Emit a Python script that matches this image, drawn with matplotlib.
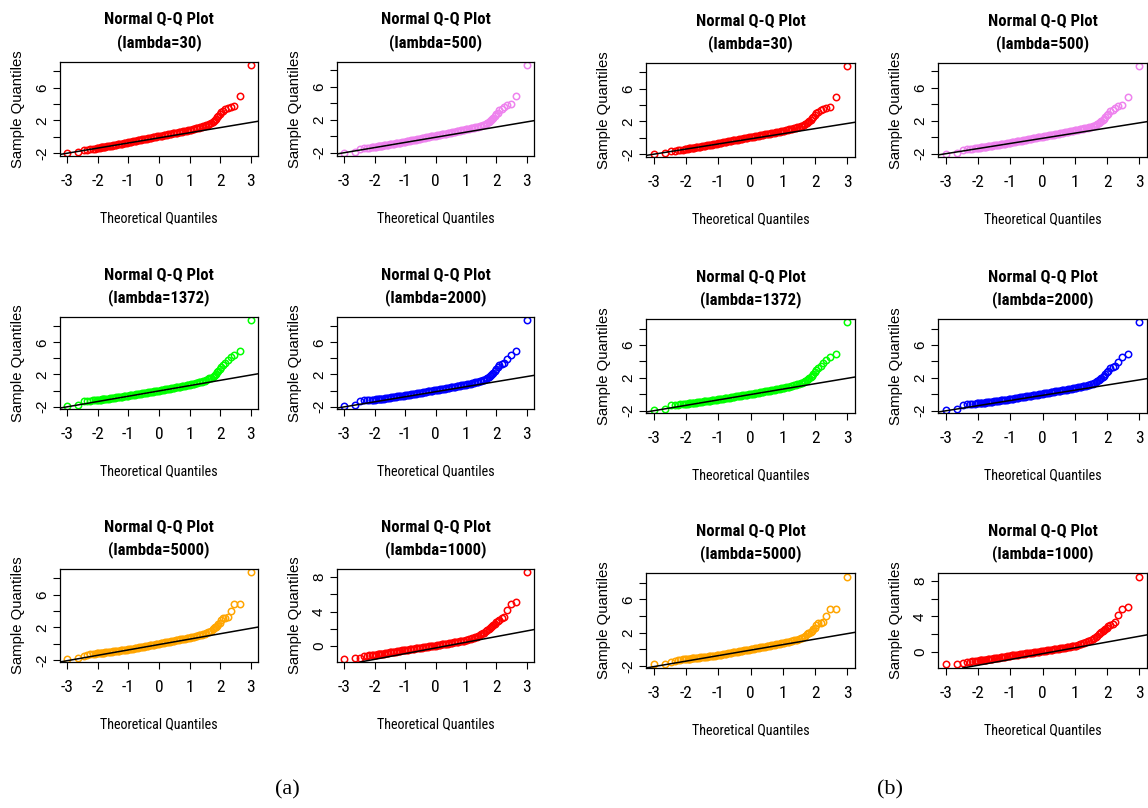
import matplotlib
matplotlib.use("Agg")
import matplotlib.pyplot as plt
from matplotlib import font_manager
from matplotlib.font_manager import FontProperties

# ---------------- data ----------------
THEO_LEFT = [-2.996, -2.643, -2.464, -2.343, -2.248, -2.169, -2.101, -2.042, -1.990,
             -1.943, -1.900, -1.860, -1.823, -1.787, -1.754]
THEO_MID = [-1.70, -1.65, -1.60, -1.55, -1.50, -1.45, -1.40, -1.35, -1.30, -1.25,
            -1.20, -1.15, -1.10, -1.05, -1.00, -0.95, -0.90, -0.85, -0.80, -0.75,
            -0.70, -0.65, -0.60, -0.55, -0.50, -0.45, -0.40, -0.35, -0.30, -0.25,
            -0.20, -0.15, -0.10, -0.05, 0.00, 0.05, 0.10, 0.15, 0.20, 0.25,
            0.30, 0.35, 0.40, 0.45, 0.50, 0.55, 0.60, 0.65, 0.70, 0.75,
            0.80, 0.85, 0.90, 0.95, 1.00, 1.05, 1.10, 1.15, 1.20, 1.25,
            1.30, 1.35, 1.40, 1.45, 1.50, 1.55, 1.60, 1.65, 1.70]
THEO_RIGHT = [1.754, 1.787, 1.823, 1.860, 1.900, 1.943, 1.990, 2.042, 2.101,
              2.169, 2.248, 2.343, 2.464, 2.643, 2.996]
THEO = THEO_LEFT + THEO_MID + THEO_RIGHT

Y_30 = [-1.92, -1.80, -1.64, -1.61, -1.53, -1.48, -1.44, -1.40, -1.35, -1.32, -1.29, -1.27, -1.24, -1.22, -1.20,
        -1.17, -1.14, -1.11, -1.07, -1.04, -1.00, -0.97, -0.93, -0.90, -0.86,
        -0.83, -0.78, -0.75, -0.71, -0.67, -0.63, -0.60, -0.55, -0.52, -0.47,
        -0.44, -0.41, -0.37, -0.32, -0.29, -0.25, -0.21, -0.18, -0.14, -0.10,
        -0.07, -0.03, 0.01, 0.04, 0.08, 0.12, 0.15, 0.19, 0.22, 0.26,
        0.30, 0.33, 0.37, 0.41, 0.45, 0.48, 0.52, 0.56, 0.60, 0.63,
        0.67, 0.71, 0.75, 0.79, 0.84, 0.88, 0.93, 0.97, 1.02, 1.07,
        1.12, 1.18, 1.24, 1.30, 1.36, 1.42, 1.48, 1.56, 1.65,
        1.80, 1.92, 2.04, 2.22, 2.40, 2.55, 2.72, 3.05, 3.20, 3.35, 3.50, 3.67, 3.75, 5.00, 8.70]

Y_500 = [-1.98, -1.90, -1.56, -1.46, -1.41, -1.37, -1.33, -1.30, -1.27, -1.25, -1.23, -1.21, -1.19, -1.17, -1.15,
         -1.12, -1.09, -1.06, -1.03, -1.00, -0.97, -0.94, -0.90, -0.87, -0.84,
         -0.80, -0.77, -0.73, -0.69, -0.65, -0.62, -0.58, -0.54, -0.51, -0.47,
         -0.43, -0.40, -0.36, -0.32, -0.29, -0.25, -0.21, -0.18, -0.14, -0.10,
         -0.07, -0.03, 0.00, 0.04, 0.08, 0.11, 0.15, 0.19, 0.22, 0.26,
         0.30, 0.33, 0.37, 0.41, 0.44, 0.48, 0.52, 0.55, 0.59, 0.63,
         0.67, 0.70, 0.74, 0.78, 0.82, 0.86, 0.91, 0.95, 0.99, 1.04,
         1.08, 1.13, 1.18, 1.23, 1.28, 1.34, 1.40, 1.47, 1.58,
         1.72, 1.85, 1.98, 2.10, 2.25, 2.48, 2.65, 2.88, 3.15, 3.30, 3.50, 3.84, 3.88, 4.90, 8.60]

Y_1372 = [-1.88, -1.80, -1.34, -1.30, -1.27, -1.24, -1.22, -1.20, -1.18, -1.16, -1.14, -1.12, -1.10, -1.08, -1.06,
          -1.04, -1.01, -0.98, -0.96, -0.93, -0.90, -0.87, -0.84, -0.82, -0.79,
          -0.76, -0.73, -0.71, -0.68, -0.65, -0.62, -0.58, -0.55, -0.52, -0.48,
          -0.45, -0.42, -0.39, -0.35, -0.32, -0.29, -0.26, -0.22, -0.19, -0.16,
          -0.13, -0.10, -0.06, -0.03, 0.00, 0.04, 0.07, 0.11, 0.14, 0.18,
          0.21, 0.25, 0.28, 0.32, 0.35, 0.39, 0.43, 0.46, 0.50, 0.54,
          0.58, 0.61, 0.65, 0.69, 0.73, 0.78, 0.82, 0.86, 0.91, 0.96,
          1.01, 1.07, 1.12, 1.18, 1.24, 1.32, 1.40, 1.50, 1.62,
          1.72, 1.84, 1.95, 2.10, 2.25, 2.45, 2.68, 2.89, 3.17, 3.45, 3.78, 4.19, 4.47, 4.92, 8.74]

Y_2000 = [-1.88, -1.80, -1.30, -1.20, -1.18, -1.17, -1.15, -1.14, -1.13, -1.11, -1.09, -1.07, -1.06, -1.04, -1.02,
          -1.00, -0.97, -0.94, -0.91, -0.89, -0.86, -0.83, -0.80, -0.77, -0.74,
          -0.72, -0.69, -0.66, -0.63, -0.61, -0.57, -0.54, -0.51, -0.47, -0.44,
          -0.41, -0.38, -0.35, -0.31, -0.28, -0.25, -0.21, -0.18, -0.15, -0.12,
          -0.09, -0.05, -0.02, 0.01, 0.04, 0.08, 0.11, 0.15, 0.18, 0.21,
          0.25, 0.28, 0.32, 0.35, 0.39, 0.42, 0.46, 0.49, 0.53, 0.56,
          0.60, 0.63, 0.67, 0.70, 0.73, 0.77, 0.82, 0.86, 0.91, 0.95,
          1.00, 1.05, 1.10, 1.16, 1.22, 1.29, 1.36, 1.45, 1.55,
          1.68, 1.80, 1.92, 2.05, 2.22, 2.45, 2.65, 2.87, 3.17, 3.30, 3.42, 3.90, 4.47, 4.88, 8.74]

Y_5000 = [-1.82, -1.76, -1.52, -1.39, -1.30, -1.25, -1.22, -1.20, -1.18, -1.16, -1.14, -1.12, -1.10, -1.08, -1.06,
          -1.04, -1.02, -0.99, -0.97, -0.94, -0.92, -0.89, -0.87, -0.84, -0.82,
          -0.80, -0.77, -0.75, -0.72, -0.70, -0.66, -0.63, -0.59, -0.56, -0.52,
          -0.49, -0.45, -0.42, -0.38, -0.35, -0.31, -0.28, -0.24, -0.21, -0.17,
          -0.14, -0.10, -0.07, -0.03, 0.00, 0.04, 0.07, 0.11, 0.15, 0.18,
          0.22, 0.26, 0.29, 0.33, 0.37, 0.40, 0.44, 0.48, 0.52, 0.55,
          0.59, 0.63, 0.67, 0.70, 0.74, 0.78, 0.83, 0.87, 0.92, 0.96,
          1.01, 1.06, 1.11, 1.17, 1.23, 1.30, 1.38, 1.47, 1.58,
          1.80, 1.90, 2.00, 2.10, 2.22, 2.40, 2.58, 2.87, 3.10, 3.15, 3.22, 4.00, 4.82, 4.86, 8.73]

Y_1000 = [-1.42, -1.40, -1.30, -1.18, -1.10, -1.06, -1.03, -1.00, -0.98, -0.96, -0.94, -0.92, -0.90, -0.88, -0.86,
          -0.84, -0.81, -0.78, -0.75, -0.72, -0.69, -0.67, -0.64, -0.61, -0.58,
          -0.55, -0.52, -0.49, -0.46, -0.43, -0.40, -0.38, -0.35, -0.33, -0.30,
          -0.28, -0.25, -0.22, -0.20, -0.17, -0.15, -0.12, -0.10, -0.07, -0.05,
          -0.02, 0.00, 0.03, 0.05, 0.08, 0.11, 0.14, 0.17, 0.20, 0.23,
          0.26, 0.29, 0.31, 0.34, 0.37, 0.40, 0.43, 0.46, 0.49, 0.52,
          0.55, 0.58, 0.61, 0.64, 0.67, 0.72, 0.78, 0.84, 0.90, 0.97,
          1.05, 1.12, 1.20, 1.28, 1.37, 1.47, 1.58, 1.70, 1.82,
          2.00, 2.10, 2.20, 2.30, 2.43, 2.60, 2.75, 2.90, 3.00, 3.20, 3.40, 4.20, 4.82, 5.10, 8.50]

LAMBDAS = ["30", "500", "1372", "2000", "5000", "1000"]
SAMPLES = {"30": Y_30, "500": Y_500, "1372": Y_1372, "2000": Y_2000, "5000": Y_5000, "1000": Y_1000}
COLORS = {"30": "#FF0000", "500": "#EE82EE", "1372": "#00FF00", "2000": "#0000FF",
          "5000": "#FFA500", "1000": "#FF0000"}
LINE_INTERCEPT = {"30": -0.13, "500": -0.13, "1372": -0.05, "2000": -0.15, "5000": -0.10, "1000": -0.20}
LINE_SLOPE = {"30": 0.625, "500": 0.625, "1372": 0.66, "2000": 0.63, "5000": 0.66, "1000": 0.655}
X_TICKS = [-3, -2, -1, 0, 1, 2, 3]
Y_TICKS_STD = [-2, 0, 2, 4, 6, 8]
Y_LABELS_STD = ["-2", "", "2", "", "6", ""]
Y_TICKS_1000 = [0, 2, 4, 6, 8]
Y_LABELS_1000 = ["0", "", "4", "", "8"]

# ---------------- fonts ----------------
REG = ["Liberation Sans", "DejaVu Sans"]
SERIF = ["Liberation Serif", "DejaVu Serif"]


def condensed_font(bold):
    """Look for an installed narrow / condensed sans face; None if there is none."""
    best = None
    for f in font_manager.fontManager.ttflist:
        nm = f.name
        fn = f.fname.lower()
        if "mono" in fn or "serif" in fn or "italic" in fn or "oblique" in fn:
            continue
        narrow = ("narrow" in fn or "condensed" in fn or "narrow" in nm.lower()
                  or "condensed" in nm.lower()
                  or f.stretch in ("condensed", "semi-condensed", "extra-condensed"))
        if not narrow or "extra" in fn or "ultra" in fn or "semicondensed" in fn:
            continue
        w = f.weight if isinstance(f.weight, int) else (700 if "bold" in str(f.weight) else 400)
        if bold and w < 600:
            continue
        if not bold and w >= 600:
            continue
        if not bold and ("light" in fn or "thin" in fn or "medium" in fn):
            continue
        if bold and ("black" in fn or "extra" in fn or "semibold" in fn):
            continue
        rank = 5
        for i, key in enumerate(["liberationsansnarrow", "arialnarrow", "robotocondensed",
                                 "dejavusanscondensed", "notosans", "opensans"]):
            if key in fn.replace("-", "").replace("_", "").replace(" ", ""):
                rank = i
                break
        if best is None or rank < best[0]:
            best = (rank, f.fname)
    return best[1] if best else None


reg_file = condensed_font(False)
bold_file = condensed_font(True)


def fp_narrow(size, bold=False):
    path = bold_file if bold else reg_file
    if path:
        return FontProperties(fname=path, size=size)
    # fallback: ordinary face, a little smaller so its width is closer
    return FontProperties(family=REG, size=size * 0.86, weight="bold" if bold else "normal")


# ---------------- layout ----------------
W, H = 1148, 808
fig = plt.figure(figsize=(W / 100, H / 100), dpi=100)

groups = [
    dict(cols=[(60, 258), (337, 534)], rows=[(62, 156), (317, 409), (569, 662)]),
    dict(cols=[(646, 855), (938, 1147)], rows=[(63, 157), (319, 413), (573, 668)]),
]
order = [["30", "500"], ["1372", "2000"], ["5000", "1000"]]


def panel(x0, x1, y0, y1, key):
    ax = fig.add_axes([x0 / W, 1 - y1 / H, (x1 - x0) / W, (y1 - y0) / H])
    ax.plot(THEO, SAMPLES[key], linestyle="none", marker="o", mfc="none",
            mec=COLORS[key], ms=4.6, mew=1.1)
    ax.margins(x=0.04, y=0.04)
    ax.axline((0, LINE_INTERCEPT[key]), slope=LINE_SLOPE[key], color="black", lw=1.1)
    ax.set_xticks(X_TICKS)
    ax.set_xticklabels([str(t) for t in X_TICKS], fontproperties=fp_narrow(12.5))
    if key == "1000":
        ax.set_yticks(Y_TICKS_1000)
        ax.set_yticklabels(Y_LABELS_1000, fontfamily=REG, fontsize=11, rotation=90, va="center")
    else:
        ax.set_yticks(Y_TICKS_STD)
        ax.set_yticklabels(Y_LABELS_STD, fontfamily=REG, fontsize=11, rotation=90, va="center")
    ax.tick_params(axis="x", direction="out", length=5, width=0.8, pad=8)
    ax.tick_params(axis="y", direction="out", length=5, width=0.8, pad=3)
    for s in ax.spines.values():
        s.set_linewidth(0.9)
    cx = (x0 + x1) / 2
    fig.text(cx / W, 1 - (y0 - 42) / H, "Normal Q-Q Plot", ha="center", va="center",
             fontproperties=fp_narrow(12, bold=True))
    fig.text(cx / W, 1 - (y0 - 19) / H, "(lambda=%s)" % key, ha="center", va="center",
             fontproperties=fp_narrow(12, bold=True))
    fig.text(cx / W, 1 - (y1 + 62) / H, "Theoretical Quantiles", ha="center", va="center",
             fontproperties=fp_narrow(10.2))
    fig.text((x0 - 42) / W, 1 - ((y0 + y1) / 2) / H, "Sample Quantiles", ha="center", va="center",
             rotation=90, fontfamily=REG, fontsize=10.7)


for g in groups:
    for r, (ry0, ry1) in enumerate(g["rows"]):
        for c, (cx0, cx1) in enumerate(g["cols"]):
            panel(cx0, cx1, ry0, ry1, order[r][c])

fig.text(287 / W, 1 - 790 / H, "(a)", ha="center", va="center", fontfamily=SERIF, fontsize=16)
fig.text(890 / W, 1 - 790 / H, "(b)", ha="center", va="center", fontfamily=SERIF, fontsize=16)

fig.savefig("out.png", dpi=100)
